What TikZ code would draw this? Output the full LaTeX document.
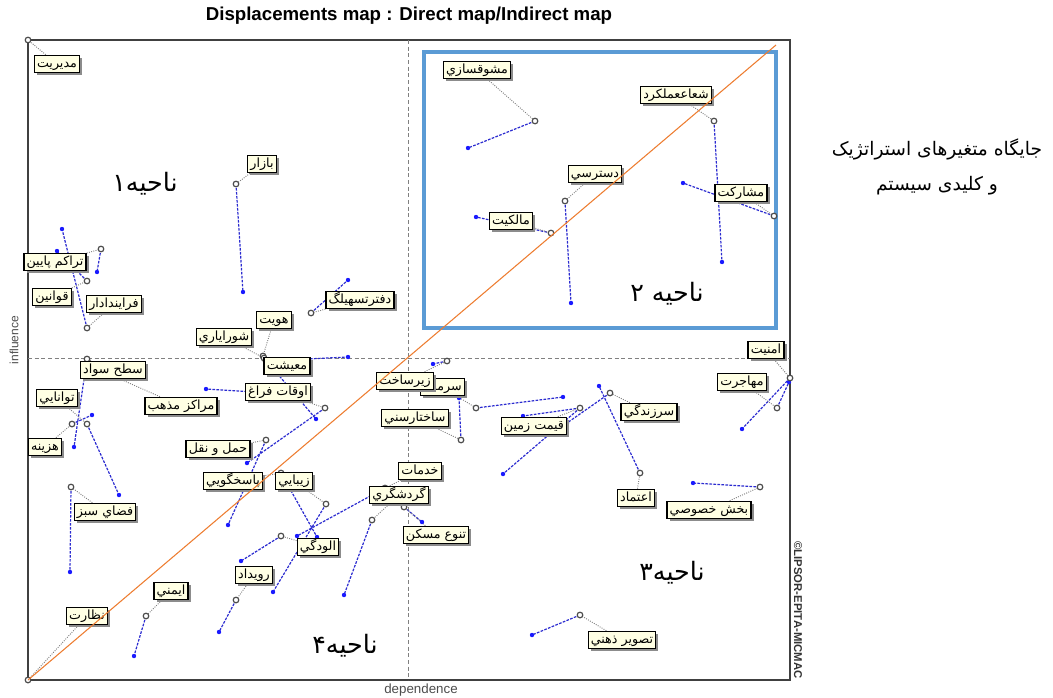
\documentclass[tikz,border=0pt]{standalone}
\usepackage{fontspec}
\setmainfont{Liberation Sans}
\newfontfamily\arabicfont[Script=Arabic]{DejaVu Sans}
\TeXXeTstate=1
\usetikzlibrary{shadows}
\newcommand{\fatext}[1]{{\arabicfont\beginR #1\endR}}
\definecolor{boxfill}{HTML}{FFFFE4}
\definecolor{movecol}{HTML}{2B2BD0}
\definecolor{dotcol}{HTML}{1A1AFF}
\definecolor{diagcol}{HTML}{ED7D31}
\definecolor{zonecol}{HTML}{5B9BD5}
\pgfdeclarelayer{back}
\pgfsetlayers{back,main}
\tikzset{
  var/.style={draw=black, line width=1pt, fill=boxfill, inner xsep=2pt, inner ysep=1.5pt,
    font=\fontsize{9.5}{11}\selectfont, text height=7.5pt, text depth=2.5pt,
    drop shadow={shadow xshift=2pt, shadow yshift=-2pt, fill=black!45, opacity=1}},
  move/.style={movecol, line width=0.9pt, dash pattern=on 2pt off 1pt},
  lead/.style={gray, line width=0.7pt, densely dotted},
  oldpt/.style={draw=black!70, fill=white, line width=0.9pt},
  zone/.style={font=\fontsize{19}{22}\selectfont},
}
\begin{document}
\begin{tikzpicture}[x=0.75pt,y=-0.75pt]
\useasboundingbox (0,0) rectangle (1053,697);
% title and axes
\node (title) at (409,16) {\fontsize{14}{16}\selectfont\bfseries Displacements map : Direct map/Indirect map};
\node[rotate=90, text=black!70, font=\fontsize{9}{11}\selectfont] (infl) at (14,340) {influence};
\node[text=black!70, font=\fontsize{10}{12}\selectfont] (dep) at (421,690) {dependence};
\node[rotate=-90, font=\fontsize{8.5}{10}\selectfont\bfseries, text=black!80] (copy) at (798,610) {\textcopyright LIPSOR-EPITA-MICMAC};

% old positions (c) and new positions (d)
\coordinate (cmod) at (28,40);
\coordinate (cbaz) at (236,184); \coordinate (dbaz) at (243,292);
\coordinate (ctar) at (101,249); \coordinate (dtar) at (97,272);
\coordinate (cqav) at (87,281);  \coordinate (dqav) at (57,251);
\coordinate (cfar) at (87,328);  \coordinate (dfar) at (62,229);
\coordinate (cdaf) at (311,313); \coordinate (ddaf) at (348,280);
\coordinate (chov) at (263,356);
\coordinate (csho) at (264,358); \coordinate (dsho) at (316,419);
\coordinate (cmai) at (266,361); \coordinate (dmai) at (348,357);
\coordinate (csat) at (87,359);  \coordinate (dsat) at (74,447);
\coordinate (cmar) at (95,368);
\coordinate (ctav) at (87,424);  \coordinate (dtav) at (119,495);
\coordinate (chaz) at (72,424);  \coordinate (dhaz) at (92,415);
\coordinate (coqa) at (325,408); \coordinate (doqa) at (247,463);
\coordinate (cham) at (266,440); \coordinate (dham) at (228,525);
\coordinate (cpas) at (281,473); \coordinate (dpas) at (317,537);
\coordinate (czib) at (326,504); \coordinate (dzib) at (273,592);
\coordinate (calu) at (281,536); \coordinate (dalu) at (241,561);
\coordinate (cruy) at (236,600); \coordinate (druy) at (219,632);
\coordinate (cimn) at (146,616); \coordinate (dimn) at (134,656);
\coordinate (cnaz) at (28,680);
\coordinate (cfsz) at (71,487);  \coordinate (dfsz) at (70,572);
\coordinate (ckhd) at (385,488); \coordinate (dkhd) at (297,536);
\coordinate (cgar) at (372,520); \coordinate (dgar) at (344,595);
\coordinate (ctan) at (404,507); \coordinate (dtan) at (422,522);
\coordinate (czir) at (447,361); \coordinate (dzir) at (433,364);
\coordinate (csar) at (476,408); \coordinate (dsar) at (563,397);
\coordinate (csak) at (461,440); \coordinate (dsak) at (459,398);
\coordinate (cqim) at (580,408); \coordinate (dqim) at (503,474);
\coordinate (csrz) at (610,393); \coordinate (dsrz) at (567,423);
\coordinate (cetm) at (640,473); \coordinate (detm) at (599,386);
\coordinate (camn) at (790,378); \coordinate (damn) at (742,429);
\coordinate (cmhj) at (777,408); \coordinate (dmhj) at (789,382);
\coordinate (cbkh) at (760,487); \coordinate (dbkh) at (693,483);
\coordinate (ctas) at (580,615); \coordinate (dtas) at (532,635);
\coordinate (cmos) at (535,121); \coordinate (dmos) at (468,148);
\coordinate (cshu) at (714,121); \coordinate (dshu) at (722,262);
\coordinate (cdas) at (565,201); \coordinate (ddas) at (571,303);
\coordinate (cmal) at (551,233); \coordinate (dmal) at (476,217);
\coordinate (cmha) at (774,216); \coordinate (dmha) at (683,183);
\coordinate (xa) at (255,392); \coordinate (xb) at (206,389);
\coordinate (ya) at (580,408); \coordinate (yb) at (523,416);

% variable labels
\node[var] (lmod) at (57,64) {\fatext{مديريت}};
\node[var] (lbaz) at (262,164) {\fatext{بازار}};
\node[var] (ltar) at (55,262) {\fatext{تراكم پايين}};
\node[var] (lqav) at (52,297) {\fatext{قوانين}};
\node[var] (lfar) at (114,304) {\fatext{فرايندادار}};
\node[var] (ldaf) at (360,300) {\fatext{دفترتسهيلگ}};
\node[var] (lhov) at (274,320) {\fatext{هويت}};
\node[var] (lsho) at (224,337) {\fatext{شوراياري}};
\node[var] (lmai) at (287,366) {\fatext{معيشت}};
\node[var] (lsat) at (113,370) {\fatext{سطح سواد}};
\node[var] (lmar) at (181,406) {\fatext{مراكز مذهب}};
\node[var] (ltav) at (57,398) {\fatext{توانايي}};
\node[var] (lhaz) at (45,447) {\fatext{هزينه}};
\node[var] (loqa) at (278,392) {\fatext{اوقات فراغ}};
\node[var] (lham) at (218,449) {\fatext{حمل و نقل}};
\node[var] (lpas) at (233,481) {\fatext{پاسخگويي}};
\node[var] (lzib) at (294,481) {\fatext{زيبايي}};
\node[var] (lalu) at (318,547) {\fatext{الودگي}};
\node[var] (lruy) at (254,575) {\fatext{رويداد}};
\node[var] (limn) at (171,591) {\fatext{ايمني}};
\node[var] (lnaz) at (87,616) {\fatext{نظارت}};
\node[var] (lfsz) at (105,512) {\fatext{فضاي سبز}};
\node[var] (lkhd) at (420,471) {\fatext{خدمات}};
\node[var] (lgar) at (399,495) {\fatext{گردشگري}};
\node[var] (ltan) at (436,535) {\fatext{تنوع مسكن}};
\node[var, anchor=east] (lsar) at (465,387) {\fatext{سرمايه}};
\node[var] (lzir) at (405,381) {\fatext{زيرساخت}};
\node[var] (lsak) at (415,418) {\fatext{ساختارسني}};
\node[var] (lqim) at (534,426) {\fatext{قيمت زمين}};
\node[var] (lsrz) at (649,412) {\fatext{سرزندگي}};
\node[var] (letm) at (636,498) {\fatext{اعتماد}};
\node[var] (lamn) at (766,350) {\fatext{امنيت}};
\node[var] (lmhj) at (742,382) {\fatext{مهاجرت}};
\node[var] (lbkh) at (709,510) {\fatext{بخش خصوصي}};
\node[var] (ltas) at (622,640) {\fatext{تصوير ذهني}};
\node[var] (lmos) at (477,70) {\fatext{مشوقسازي}};
\node[var] (lshu) at (676,95) {\fatext{شعاععملكرد}};
\node[var] (ldas) at (595,174) {\fatext{دسترسي}};
\node[var] (lmal) at (511,221) {\fatext{مالكيت}};
\node[var] (lmha) at (741,193) {\fatext{مشاركت}};

% zone names
\node[zone] (z1) at (145,184) {\fatext{ناحیه\kern0pt ۱}};
\node[zone] (z2) at (667,294) {\fatext{ناحیه ۲}};
\node[zone] (z3) at (672,573) {\fatext{ناحیه\kern0pt ۳}};
\node[zone] (z4) at (345,646) {\fatext{ناحیه\kern0pt ۴}};
\node[font=\fontsize{14}{16}\selectfont, align=center] (note) at (937,167)
  {\fatext{جایگاه متغیرهای استراتژیک}\\[10pt]\fatext{و کلیدی سیستم}};

\begin{pgfonlayer}{back}
\draw[black!75, line width=1.3pt] (28,40) rectangle (790,680);
\draw[gray, line width=0.6pt, dash pattern=on 3pt off 2pt] (408,40) -- (408,680);
\draw[gray, line width=0.6pt, dash pattern=on 3pt off 2pt] (28,358) -- (790,358);
\draw[zonecol, line width=3pt] (424,52) rectangle (776,328);
% displacements
\foreach \v in {baz,tar,qav,far,daf,sho,mai,sat,tav,haz,oqa,ham,pas,zib,alu,ruy,imn,fsz,
  khd,gar,tan,zir,sar,sak,qim,srz,etm,amn,mhj,bkh,tas,mos,shu,das,mal,mha}
  \draw[move] (c\v) -- (d\v);
\draw[move] (xa) -- (xb);
\draw[move] (ya) -- (yb);
% leaders
\foreach \v in {mod,baz,tar,qav,far,daf,hov,sho,mai,sat,mar,tav,haz,oqa,ham,pas,zib,alu,ruy,
  imn,naz,fsz,khd,gar,tan,zir,sar,sak,qim,srz,etm,amn,mhj,bkh,tas,mos,shu,das,mal,mha}
  \draw[lead] (l\v) -- (c\v);
\foreach \v in {baz,tar,qav,far,daf,sho,mai,sat,tav,haz,oqa,ham,pas,zib,alu,ruy,imn,fsz,
  khd,gar,tan,zir,sar,sak,qim,srz,etm,amn,mhj,bkh,tas,mos,shu,das,mal,mha}
  \fill[dotcol] (d\v) circle (2.2);
\fill[dotcol] (xb) circle (2.2);
\fill[dotcol] (yb) circle (2.2);
\foreach \v in {mod,baz,tar,qav,far,daf,hov,sho,mai,sat,mar,tav,haz,oqa,ham,pas,zib,alu,ruy,
  imn,naz,fsz,khd,gar,tan,zir,sar,sak,qim,srz,etm,amn,mhj,bkh,tas,mos,shu,das,mal,mha}
  \draw[oldpt] (c\v) circle (2.8);
\end{pgfonlayer}

% diagonal
\draw[diagcol, line width=0.8pt] (cnaz) -- (776,45);
\end{tikzpicture}
\end{document}
